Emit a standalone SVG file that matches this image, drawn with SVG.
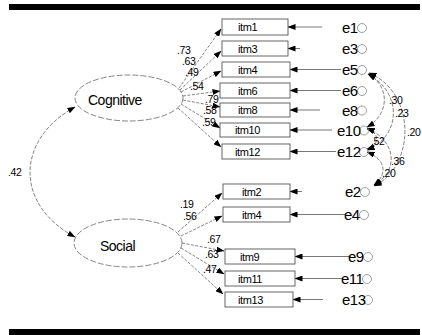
<svg xmlns="http://www.w3.org/2000/svg" width="422" height="335" viewBox="0 0 422 335">
<defs>
<marker id="ah" markerUnits="userSpaceOnUse" markerWidth="8" markerHeight="6" refX="7.5" refY="3" orient="auto-start-reverse">
<path d="M0,0 L8,3 L0,6 z" fill="#000"/>
</marker>
<style>
.box{fill:#fff;stroke:#555;stroke-width:0.9}
.lat{fill:#fff;stroke:#777;stroke-width:0.9;stroke-dasharray:6 2}
.it{font-family:"Liberation Sans",Arial,sans-serif;font-size:11px;fill:#000;letter-spacing:-0.4px}
.lv{font-family:"Liberation Sans",Arial,sans-serif;font-size:14px;fill:#000;letter-spacing:-0.5px}
.er{font-family:"Liberation Sans",Arial,sans-serif;font-size:15px;fill:#000;letter-spacing:-0.5px}
.ec{fill:none;stroke:#888;stroke-width:0.8}
.lb{font-family:"Liberation Sans",Arial,sans-serif;font-size:10.5px;fill:#000;letter-spacing:-0.4px}
.ld{fill:none;stroke:#666;stroke-width:0.8;stroke-dasharray:3 1.5;marker-end:url(#ah)}
.ea{fill:none;stroke:#777;stroke-width:1;marker-end:url(#ah)}
.cv{fill:none;stroke:#666;stroke-width:0.8;stroke-dasharray:4 1.5;marker-start:url(#ah);marker-end:url(#ah)}
</style>
</defs>
<rect x="9" y="4" width="411" height="6" fill="#000"/>
<rect x="9" y="329" width="411" height="6" fill="#000"/>

<g id="connectors">
<path class="cv" d="M75,107 C15,140 15,205 75,237"/>
<path class="ld" d="M179,88 L221,29"/>
<path class="ld" d="M180,90 L221,51"/>
<path class="ld" d="M181,92 L221,71"/>
<path class="ld" d="M183,96 L220,91"/>
<path class="ld" d="M183,100 L220,107"/>
<path class="ld" d="M181,104 L220,128"/>
<path class="ld" d="M178,108 L221,147"/>
<path class="ld" d="M178,232 L222,193"/>
<path class="ld" d="M181,236 L222,216"/>
<path class="ld" d="M182,243 L224,251"/>
<path class="ld" d="M181,248 L224,274"/>
<path class="ld" d="M178,253 L223,294"/>
<path class="ea" d="M322,27 L288,27"/>
<path class="ea" d="M300,48.5 L288,48.5"/>
<path class="ea" d="M341,69.5 L290,69.5"/>
<path class="ea" d="M341,90.5 L290,90.5"/>
<path class="ea" d="M320,110 L290,110"/>
<path class="ea" d="M332,130 L290,130"/>
<path class="ea" d="M336,151.5 L290,151.5"/>
<path class="ea" d="M302,191.5 L290,191.5"/>
<path class="ea" d="M346,214.5 L290,214.5"/>
<path class="ea" d="M351,256.5 L295,256.5"/>
<path class="ea" d="M343,278.5 L295,278.5"/>
<path class="ea" d="M323,299.5 L293,299.5"/>
<path class="cv" d="M368,74 C390,86 390,114 367,127"/>
<path class="cv" d="M368,74 C402,92 402,136 367,150"/>
<path class="cv" d="M369,73 C416,92 416,166 374,186"/>
<path class="cv" d="M367,129 C380,133 380,145 367,149"/>
<path class="cv" d="M367,128 C398,142 398,172 374,185"/>
<path class="cv" d="M367,152 C387,160 387,175 374,185"/>
</g>
<g id="labels">
<text class="lb" x="8" y="176">.42</text>
<text class="lb" x="177" y="54">.73</text>
<text class="lb" x="182" y="64.5">.63</text>
<text class="lb" x="185" y="75.5">.49</text>
<text class="lb" x="190" y="90">.54</text>
<text class="lb" x="205" y="103">.79</text>
<text class="lb" x="203" y="114">.58</text>
<text class="lb" x="202" y="126">.59</text>
<text class="lb" x="180" y="208">.19</text>
<text class="lb" x="183" y="220">.56</text>
<text class="lb" x="207" y="243">.67</text>
<text class="lb" x="205" y="258">.63</text>
<text class="lb" x="203" y="273">.47</text>
<text class="lb" x="389" y="104">.30</text>
<text class="lb" x="395" y="117">.23</text>
<text class="lb" x="407" y="136">.20</text>
<text class="lb" x="371" y="145">.52</text>
<text class="lb" x="391" y="165">.36</text>
<text class="lb" x="382" y="177">.20</text>
</g>

<g id="Cognitive"><ellipse class="lat" cx="129" cy="98" rx="54" ry="23"/><text class="lv" x="88" y="105">Cognitive</text></g>
<g id="Social"><ellipse class="lat" cx="128" cy="243" rx="54" ry="24"/><text class="lv" x="100" y="251">Social</text></g>

<g id="itm1"><rect class="box" x="222" y="19" width="66" height="16"/><text class="it" x="238" y="31">itm1</text></g>
<g id="itm3"><rect class="box" x="222" y="41" width="66" height="15"/><text class="it" x="238" y="52.5">itm3</text></g>
<g id="itm4c"><rect class="box" x="222" y="62" width="68" height="15"/><text class="it" x="238" y="73.5">itm4</text></g>
<g id="itm6"><rect class="box" x="220" y="83" width="70" height="15"/><text class="it" x="238" y="94.5">itm6</text></g>
<g id="itm8"><rect class="box" x="220" y="103" width="70" height="14"/><text class="it" x="238" y="114">itm8</text></g>
<g id="itm10"><rect class="box" x="220" y="123" width="70" height="14"/><text class="it" x="235" y="134">itm10</text></g>
<g id="itm12"><rect class="box" x="222" y="144" width="68" height="15"/><text class="it" x="235" y="155.5">itm12</text></g>
<g id="itm2"><rect class="box" x="223" y="184" width="67" height="15"/><text class="it" x="242" y="195.5">itm2</text></g>
<g id="itm4s"><rect class="box" x="223" y="207" width="67" height="15"/><text class="it" x="242" y="218.5">itm4</text></g>
<g id="itm9"><rect class="box" x="225" y="249" width="70" height="15"/><text class="it" x="240" y="260.5">itm9</text></g>
<g id="itm11"><rect class="box" x="225" y="271" width="70" height="15"/><text class="it" x="238" y="282.5">itm11</text></g>
<g id="itm13"><rect class="box" x="225" y="292" width="68" height="15"/><text class="it" x="238" y="303.5">itm13</text></g>

<g id="e1"><circle class="ec" cx="362" cy="28" r="4.5"/><text class="er" x="342" y="32.5">e1</text></g>
<g id="e3"><circle class="ec" cx="362" cy="49" r="4.5"/><text class="er" x="342" y="54">e3</text></g>
<g id="e5"><circle class="ec" cx="362" cy="70" r="4.5"/><text class="er" x="342" y="75">e5</text></g>
<g id="e6"><circle class="ec" cx="362" cy="91" r="4.5"/><text class="er" x="342" y="96">e6</text></g>
<g id="e8"><circle class="ec" cx="362" cy="110.5" r="4.5"/><text class="er" x="342" y="115.5">e8</text></g>
<g id="e10"><circle class="ec" cx="364" cy="130.5" r="4.5"/><text class="er" x="337" y="135.5">e10</text></g>
<g id="e12"><circle class="ec" cx="364" cy="152" r="4.5"/><text class="er" x="337" y="157">e12</text></g>
<g id="e2"><circle class="ec" cx="365" cy="192" r="4.5"/><text class="er" x="345" y="197">e2</text></g>
<g id="e4"><circle class="ec" cx="364" cy="215" r="4.5"/><text class="er" x="344" y="220">e4</text></g>
<g id="e9"><circle class="ec" cx="368" cy="257" r="4.5"/><text class="er" x="348" y="262">e9</text></g>
<g id="e11"><circle class="ec" cx="367" cy="279" r="4.5"/><text class="er" x="341" y="284">e11</text></g>
<g id="e13"><circle class="ec" cx="368" cy="300" r="4.5"/><text class="er" x="342" y="305">e13</text></g>
</svg>
